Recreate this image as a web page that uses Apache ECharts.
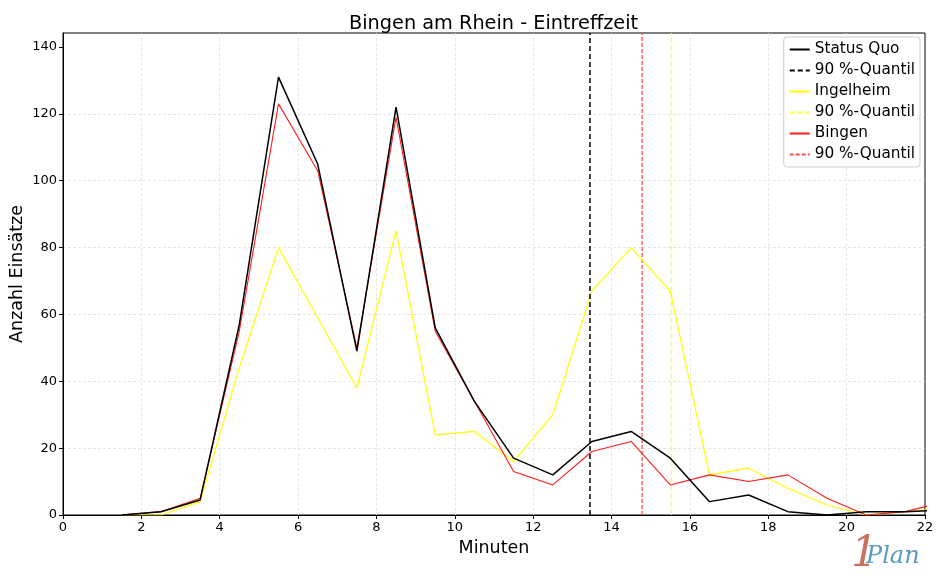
<!DOCTYPE html>
<html>
<head>
<meta charset="utf-8">
<script src="https://cdn.jsdelivr.net/npm/echarts@6/dist/echarts.min.js"></script>
<style>
html,body{margin:0;padding:0;background:#fff;}
#c{width:936px;height:583px;}
</style>
</head>
<body>
<div id="c"></div>
<script>
const minutes = [1.5,2.5,3.5,4.5,5.5,6.5,7.5,8.5,9.5,10.5,11.5,12.5,13.5,14.5,15.5,16.5,17.5,18.5,19.5,20.5,21.5,22.5];
const statusQuo = [0,1,4.5,57,131,105,49,122,56,34,17,12,22,25,17,4,6,1,0,1,1,1.5];
const ingelheim = [0,0,4,44,80,59,38,85,24,25,16,30,67,80,67,12,14,8,3,0,1,2];
const bingen = [0,1,5,55,123,103,50,119,55,34,13,9,19,22,9,12,10,12,5,0,1,4];
const quantiles = {statusQuo: 13.45, ingelheim: 15.53, bingen: 14.78};
const yTicks = [0,20,40,60,80,100,120,140];
const xTicks = [0,2,4,6,8,10,12,14,16,18,20,22];
const yMax = 144.2;

const pairs = (xs, ys) => xs.map((x, i) => [x, ys[i]]);
const vline = (x) => [[x, 0], [x, yMax]];
const font = 'DejaVu Sans';

const chart = echarts.init(document.getElementById('c'), null, {renderer: 'canvas'});
chart.setOption({
  animation: false,
  backgroundColor: '#ffffff',
  textStyle: {fontFamily: font},
  title: {
    text: 'Bingen am Rhein - Eintreffzeit',
    left: 344, top: 9,
    textStyle: {fontFamily: font, fontSize: 19.3, fontWeight: 'normal', color: '#000'}
  },
  grid: {left: 63, right: 11, top: 33, bottom: 68, show: true, borderColor: '#000', borderWidth: 1,
         containLabel: false, outerBoundsMode: 'none'},
  legend: {
    orient: 'vertical', right: 16, top: 37,
    backgroundColor: 'rgba(255,255,255,0.85)', borderColor: '#cccccc', borderWidth: 1, borderRadius: 3,
    padding: [5, 5, 5, 5], itemGap: 6, itemWidth: 20, itemHeight: 15,
    itemStyle: {opacity: 0},
    formatter: (name) => name.trim(),
    textStyle: {fontFamily: font, fontSize: 15.3, color: '#000'},
    data: [
      {name: 'Status Quo'}, {name: '90 %-Quantil '},
      {name: 'Ingelheim'}, {name: '90 %-Quantil  '},
      {name: 'Bingen'}, {name: '90 %-Quantil   '}
    ]
  },
  xAxis: {
    type: 'value', min: 0, max: 22, interval: 2,
    name: 'Minuten', nameLocation: 'middle', nameGap: 24,
    nameTextStyle: {fontFamily: font, fontSize: 17.5, color: '#000'},
    axisLine: {onZero: false, lineStyle: {color: '#000', width: 1}},
    axisTick: {show: true, length: 4, lineStyle: {color: '#000'}},
    axisLabel: {fontFamily: font, fontSize: 13, color: '#000', margin: 6},
    splitLine: {show: true, showMinLine: false, showMaxLine: false, lineStyle: {color: '#e0e0e0', type: [3, 2], width: 0.8}}
  },
  yAxis: {
    type: 'value', min: 0, max: yMax, interval: 20,
    name: 'Anzahl Einsätze', nameLocation: 'middle', nameGap: 37, nameMoveOverlap: false,
    nameTextStyle: {fontFamily: font, fontSize: 17.5, color: '#000'},
    axisLine: {show: true, lineStyle: {color: '#000', width: 1}},
    axisTick: {show: true, length: 4, lineStyle: {color: '#000'}, customValues: yTicks},
    axisLabel: {fontFamily: font, fontSize: 13, color: '#000', margin: 6, customValues: yTicks},
    splitLine: {show: true, showMinLine: false, showMaxLine: false, lineStyle: {color: '#e0e0e0', type: [3, 2], width: 0.8}}
  },
  series: [
    {name: 'Status Quo', type: 'line', data: pairs(minutes, statusQuo), symbol: 'none', z: 5,
     lineStyle: {color: '#000', width: 1.5}, itemStyle: {color: '#000'}},
    {name: '90 %-Quantil ', type: 'line', data: vline(quantiles.statusQuo), symbol: 'none', z: 4,
     lineStyle: {color: '#000', width: 1.5, type: [5, 3]}, itemStyle: {color: '#000'}},
    {name: 'Ingelheim', type: 'line', data: pairs(minutes, ingelheim), symbol: 'none', z: 3,
     lineStyle: {color: '#ffff00', width: 1.2}, itemStyle: {color: '#ffff00'}},
    {name: '90 %-Quantil  ', type: 'line', data: vline(quantiles.ingelheim), symbol: 'none', z: 2,
     lineStyle: {color: '#ffff33', width: 1.3, type: [5, 3]}, itemStyle: {color: '#ffff66'}},
    {name: 'Bingen', type: 'line', data: pairs(minutes, bingen), symbol: 'none', z: 4,
     lineStyle: {color: '#ff1a1a', width: 1.1}, itemStyle: {color: '#ff3030'}},
    {name: '90 %-Quantil   ', type: 'line', data: vline(quantiles.bingen), symbol: 'none', z: 2,
     lineStyle: {color: '#ff5050', width: 1.3, type: [4, 2]}, itemStyle: {color: '#ff6666'}}
  ],
  graphic: [
    {type: 'text', left: 851, top: 534, style: {text: '1', font: 'italic 300 42px "DejaVu Serif"', fill: '#c9705f'}},
    {type: 'text', left: 866, top: 545, style: {text: 'Plan', font: 'italic 24px "DejaVu Serif"', fill: '#5a9cc0'}}
  ]
});
</script>
</body>
</html>
